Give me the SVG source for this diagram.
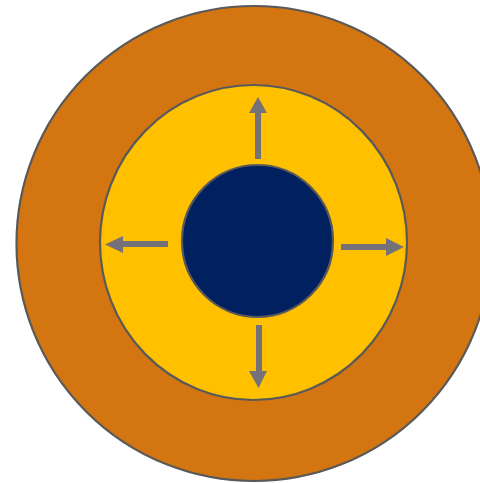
<svg xmlns="http://www.w3.org/2000/svg" width="480" height="483" viewBox="0 0 480 483">
<style>
.ring{stroke:#595959;stroke-width:2.2}
.arrow{fill:#747278;stroke:none}
</style>
<rect width="480" height="483" fill="#ffffff"/>
<g id="outer"><ellipse class="ring" cx="254" cy="243.5" rx="237.5" ry="237.5" fill="#D37612"/></g>
<g id="middle"><ellipse class="ring" cx="253.5" cy="242.5" rx="153.5" ry="157.5" fill="#FFC000"/></g>
<g id="core"><ellipse class="ring" cx="257.5" cy="241" rx="75.5" ry="76" fill="#002060"/></g>
<g id="connectors">
<polygon class="arrow" points="255,159 255,113 249,113 258,97 267,113 261,113 261,159"/>
<polygon class="arrow" points="256,325 256,371 249,371 258.5,388 267,371 262,371 262,325"/>
<polygon class="arrow" points="168,241 123,241 123,236 105,244.5 123,253 123,247 168,247"/>
<polygon class="arrow" points="341,244 386,244 386,238 404,247 386,256 386,250 341,250"/>
</g>
</svg>
